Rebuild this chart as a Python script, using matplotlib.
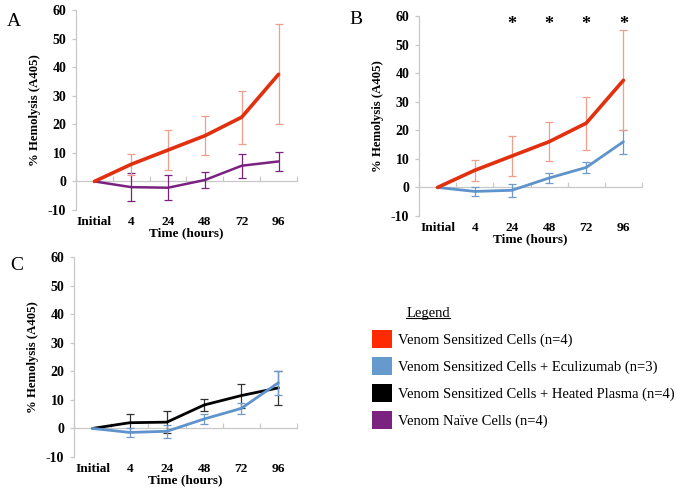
import matplotlib
matplotlib.use("Agg")
import matplotlib.pyplot as plt
from matplotlib.patches import Patch
from matplotlib.lines import Line2D

plt.rcParams['font.family'] = ['Liberation Serif', 'DejaVu Serif']

categories = ["Initial", "4", "24", "48", "72", "96"]
yticks = [-10, 0, 10, 20, 30, 40, 50, 60]

sensitized = [0, 6.0, 11.0, 16.0, 22.5, 37.5]
sensitized_err = [0, 3.6, 7.0, 6.8, 9.3, 17.5]
naive = [0, -2.0, -2.2, 0.5, 5.5, 7.0]
naive_err = [0, 4.9, 4.3, 2.7, 4.2, 3.2]
eculizumab = [0, -1.4, -1.0, 3.3, 7.0, 16.0]
eculizumab_err = [0, 1.7, 2.3, 1.9, 1.8, 4.2]
heated = [0, 2.0, 2.2, 8.2, 11.5, 14.2]
heated_err = [0, 3.2, 3.8, 2.0, 4.2, 6.0]
star_idx = [2, 3, 4, 5]
star_y = 57.0

legend_labels = ["Venom Sensitized Cells (n=4)",
                 "Venom Sensitized Cells + Eculizumab (n=3)",
                 "Venom Sensitized Cells + Heated Plasma (n=4)",
                 "Venom Naïve Cells (n=4)"]

RED = "#E2300F"; RED_ERR = "#F09E8C"; RED_LEG = "#FF2A00"
BLUE = "#5E93CB"; BLUE_ERR = "#6F9ACB"
BLACK = "#000000"; BLACK_ERR = "#333333"
PURPLE = "#7B2280"
GRAY = "#C8C8C8"

W, H = 683, 495
fig = plt.figure(figsize=(W / 100, H / 100), dpi=100)


def make_ax(left, right, top, bottom):
    return fig.add_axes([left / W, 1 - bottom / H, (right - left) / W, (bottom - top) / H])


def style(ax):
    x = list(range(len(categories)))
    ax.set_xlim(-0.5, len(categories) - 0.5)
    ax.set_ylim(-10, 60)
    for s in ['top', 'right']:
        ax.spines[s].set_visible(False)
    ax.spines['left'].set_color(GRAY)
    ax.spines['left'].set_linewidth(0.9)
    ax.spines['bottom'].set_position(('data', 0))
    ax.spines['bottom'].set_color(GRAY)
    ax.spines['bottom'].set_linewidth(0.9)
    bounds = [i - 0.5 for i in range(len(categories) + 1)]
    ax.set_xticks(bounds)
    ax.set_xticklabels([])
    ax.tick_params(axis='x', direction='in', length=3.5, color=GRAY, width=0.9)
    ax.set_yticks(yticks)
    ax.set_yticklabels([str(v) for v in yticks], fontweight='bold', fontsize=10)
    ax.tick_params(axis='y', direction='out', length=3, color=GRAY, width=0.9, pad=4)
    sec = ax.secondary_xaxis('bottom')
    sec.set_xticks(x)
    sec.set_xticklabels(categories, fontweight='bold', fontsize=9.6)
    sec.tick_params(length=0, pad=4.5)
    sec.spines['bottom'].set_visible(False)
    sec.set_xlabel("Time (hours)", fontweight='bold', fontsize=9.6, labelpad=-1)
    ax.set_ylabel("% Hemolysis (A405)", fontweight='bold', fontsize=9.2, labelpad=5)


def series(ax, vals, errs, color, ecolor, lw, z):
    x = list(range(len(vals)))
    ax.errorbar(x[1:], vals[1:], yerr=errs[1:], fmt='none', ecolor=ecolor,
                elinewidth=0.9, capsize=3.2, capthick=0.9, zorder=z)
    ax.plot(x, vals, color=color, lw=lw, zorder=z + 0.5, solid_capstyle='round')


# Panel A
axA = make_ax(76, 297, 10, 210)
style(axA)
series(axA, naive, naive_err, PURPLE, PURPLE, 1.8, 3)
series(axA, sensitized, sensitized_err, RED, RED_ERR, 2.6, 4)
fig.text(14 / W, 1 - 22 / H, "A", fontsize=14, ha='center', va='center')

# Panel B
axB = make_ax(419, 642, 16, 216)
style(axB)
series(axB, eculizumab, eculizumab_err, BLUE, BLUE_ERR, 2.0, 3)
series(axB, sensitized, sensitized_err, RED, RED_ERR, 2.6, 4)
for i in star_idx:
    axB.text(i, star_y, "*", ha='center', va='center', fontsize=13, fontweight='bold')
fig.text(356 / W, 1 - 20 / H, "B", fontsize=14, ha='center', va='center')

# Panel C
axC = make_ax(74, 297, 257, 457)
style(axC)
series(axC, heated, heated_err, BLACK, BLACK_ERR, 2.0, 3)
series(axC, eculizumab, eculizumab_err, BLUE, BLUE_ERR, 2.0, 4)
fig.text(17 / W, 1 - 265 / H, "C", fontsize=14, ha='center', va='center')

# Legend
handles = [Patch(facecolor=c, edgecolor='none') for c in [RED_LEG, "#6699CC", BLACK, PURPLE]]
leg = fig.legend(handles, legend_labels, loc='upper left',
                 bbox_to_anchor=(372 / W, 1 - 330 / H), frameon=False,
                 fontsize=10.5, handlelength=1.4, handleheight=1.55,
                 handletextpad=0.35, labelspacing=0.6, borderpad=0, borderaxespad=0)
t = fig.text(428 / W, 1 - 313 / H, "Legend", fontsize=10.5, ha='center', va='center')
fig.canvas.draw()
bb = t.get_window_extent().transformed(fig.transFigure.inverted())
fig.add_artist(Line2D([bb.x0, bb.x1], [bb.y0 + 0.004, bb.y0 + 0.004],
                      transform=fig.transFigure, color='black', lw=0.8))

fig.savefig("out.png", dpi=100)
